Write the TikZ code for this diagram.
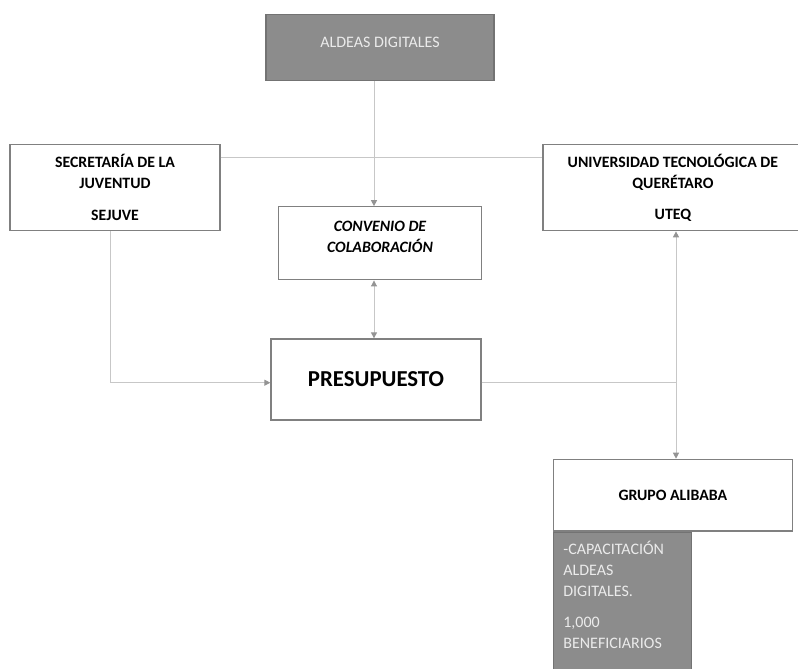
\documentclass[tikz,border=0pt]{standalone}
\usepackage{fontspec}
\setmainfont{Carlito}
\usetikzlibrary{arrows.meta}

\begin{document}
\begin{tikzpicture}[x=1pt, y=-1pt,
    box/.style={draw=black!50, line width=1.3pt, align=center, inner sep=0pt,
        font=\fontsize{15.8}{21}\selectfont\bfseries},
    greybox/.style={box, fill=black!45, draw=black!55, text=white!92!black,
        font=\fontsize{16}{21}\selectfont},
    link/.style={draw=black!22, line width=1pt},
    tip/.style={-{Triangle[length=6pt, width=6pt, color=black!42]}},
    tips/.style={{Triangle[length=6pt, width=6pt, color=black!42]}-{Triangle[length=6pt, width=6pt, color=black!42]}}]
    \useasboundingbox (0,0) rectangle (798,669);

    \node[greybox, minimum width=228pt, minimum height=66pt] (aldeas) at (380,47.7) {ALDEAS DIGITALES\\[-10pt]};
    \node[box, minimum width=210pt, minimum height=86pt] (sejuve) at (115,187.7)
        {SECRETARÍA DE LA\\JUVENTUD\\[10.6pt]SEJUVE};
    \node[box, minimum width=260pt, minimum height=86pt] (uteq) at (672.9,187.7)
        {UNIVERSIDAD TECNOLÓGICA DE\\QUERÉTARO\\[10.6pt]UTEQ};
    \node[box, minimum width=203pt, minimum height=73pt] (conv) at (380,243.3)
        {\itshape CONVENIO DE\\\itshape COLABORACIÓN\\[-8pt]};
    \node[box, minimum width=210pt, minimum height=81pt, font=\fontsize{22.8}{26}\selectfont\bfseries] (pres) at (376,379.5) {PRESUPUESTO};
    \node[box, minimum width=239pt, minimum height=71.7pt] (grupo) at (672.8,495.2) {GRUPO ALIBABA};
    \node[greybox, anchor=north west, minimum width=138.4pt, minimum height=150pt] (caja) at (grupo.south west) {};
    \node[anchor=north west, align=left, inner sep=0pt, text=white!92!black,
        font=\fontsize{16}{21}\selectfont] (cajatexto) at ([xshift=10.5pt, yshift=-9pt]caja.north west)
        {-CAPACITACIÓN\\ALDEAS\\DIGITALES.\\[10.6pt]1,000\\BENEFICIARIOS};

    \coordinate (cruce) at (676,382.7);

    \draw[link, tip] ([xshift=-6pt]aldeas.south) -- ([xshift=-6pt]conv.north);
    \draw[link, tips] ([xshift=-6pt]conv.south) -- ([xshift=-6pt]conv.south |- pres.north);
    \draw[link] ([yshift=30.4pt]sejuve.east) -- ([yshift=30.4pt]sejuve.east -| uteq.west);
    \draw[link, tip] ([xshift=-5pt]sejuve.south) |- ([yshift=-3.2pt]pres.west);
    \draw[link] ([yshift=-3.2pt]pres.east) -- (cruce);
    \draw[link, tips] (cruce |- uteq.south) -- (cruce |- grupo.north);
\end{tikzpicture}
\end{document}
